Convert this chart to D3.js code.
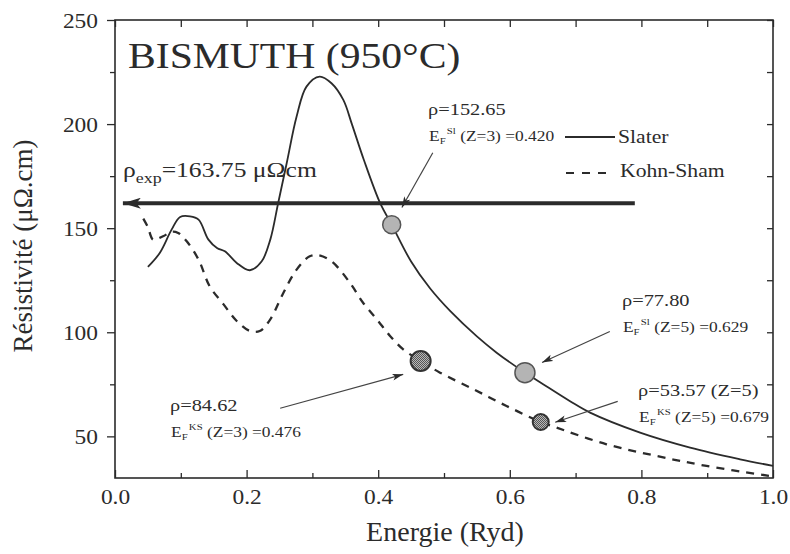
<!DOCTYPE html>
<html>
<head>
<meta charset="utf-8">
<script src="https://cdn.jsdelivr.net/npm/d3@7"></script>
<style>
  body { margin: 0; background: #fff; }
  svg { display: block; }
</style>
</head>
<body>
<div id="chart"></div>
<script>
// Slater curve (energy in Ryd, resistivity in µΩ.cm)
var slaterE = [0.050, 0.068, 0.086, 0.099, 0.114, 0.127, 0.142, 0.155, 0.167, 0.185, 0.205, 0.223, 0.236, 0.248, 0.261, 0.276, 0.291, 0.311, 0.329, 0.347, 0.360, 0.378, 0.403, 0.4205, 0.450, 0.479, 0.510, 0.550, 0.580, 0.623, 0.646, 0.691, 0.722, 0.798, 0.874, 0.950, 1.000];
var slaterRho = [131.4, 138.1, 149.3, 155.4, 155.7, 154.1, 144.5, 140.5, 138.9, 133.3, 129.8, 134.1, 144.5, 162.1, 181.3, 203.6, 218.0, 222.8, 219.6, 211.6, 200.0, 183.0, 162.0, 151.7, 134.0, 121.0, 110.0, 98.0, 90.2, 80.6, 76.0, 67.0, 61.4, 51.8, 44.6, 39.0, 35.8];

// Kohn-Sham curve
var ksE = [0.043, 0.050, 0.058, 0.073, 0.086, 0.096, 0.109, 0.127, 0.144, 0.165, 0.185, 0.205, 0.220, 0.236, 0.256, 0.276, 0.296, 0.309, 0.329, 0.357, 0.377, 0.398, 0.418, 0.438, 0.4645, 0.494, 0.545, 0.595, 0.647, 0.671, 0.747, 0.823, 0.899, 0.995];
var ksRho = [154.6, 150.5, 144.5, 146.1, 148.3, 147.7, 143.7, 134.9, 122.0, 113.4, 105.4, 100.6, 100.6, 106.2, 119.0, 130.1, 136.5, 137.0, 134.1, 123.8, 114.2, 106.2, 98.2, 91.8, 86.2, 80.6, 72.6, 64.6, 56.9, 54.2, 46.2, 40.6, 35.8, 31.0];

// Fermi level markers
var slaterPtE = [0.4205, 0.623];
var slaterPtRho = [151.7, 80.6];
var ksPtE = [0.4645, 0.647];
var ksPtRho = [86.2, 56.9];

// experimental value arrow
var expE = [0.79, 0.012];
var expRho = 162;

// annotations: labels and arrow ends (in data units)
var noteRho = ["152.65", "77.80", "53.57 (Z=5)", "84.62"];
var noteSup = ["Sl", "Sl", "KS", "KS"];
var noteZ = ["3", "5", "5", "3"];
var noteEf = ["0.420", "0.629", "0.679", "0.476"];
var noteTextE = [0.4757, 0.7705, 0.795, 0.0836];
var noteTextRho = [204.5, 112.4, 69.2, 62.1];
var noteFromE = [0.483, 0.752, 0.764, 0.251];
var noteFromRho = [186.2, 100.4, 66.8, 63.5];
var noteToE = [0.436, 0.649, 0.669, 0.438];
var noteToRho = [159.9, 85.5, 56.8, 79.8];

var xTicks = [0, 0.2, 0.4, 0.6, 0.8, 1.0];
var xMinor = [0.1, 0.3, 0.5, 0.7, 0.9];
var yTicks = [50, 100, 150, 200, 250];
var yMinor = [75, 125, 175, 225];

var W = 790, H = 554;
var SX = 1.17; // the scanned figure is a bit wider than it is tall
var ink = "#2b2b2b";
var FONT = "'Liberation Serif', 'DejaVu Serif', 'Noto Serif', serif";

var svg = d3.select("#chart").append("svg")
    .attr("width", W)
    .attr("height", H)
    .attr("font-family", FONT);

var x = d3.scaleLinear().domain([0, 1]).range([115, 773]);
var y = d3.scaleLinear().domain([30, 250]).range([478, 20]);

// wide text helper
function wtext(g, px, py, size, sx) {
    return g.append("text")
        .attr("transform", "translate(" + px + "," + py + ") scale(" + sx + ",1)")
        .attr("font-family", FONT)
        .attr("fill", ink)
        .attr("font-size", size);
}

var defs = svg.append("defs");
var pat = defs.append("pattern").attr("id", "dots")
    .attr("width", 2).attr("height", 2).attr("patternUnits", "userSpaceOnUse");
pat.append("rect").attr("width", 2).attr("height", 2).attr("fill", "#b8b8b8");
pat.append("rect").attr("width", 1).attr("height", 1).attr("fill", "#555");
pat.append("rect").attr("x", 1).attr("y", 1).attr("width", 1).attr("height", 1).attr("fill", "#555");

function head(id, len, wid) {
    defs.append("marker").attr("id", id)
        .attr("viewBox", "0 0 " + len + " " + wid)
        .attr("refX", len).attr("refY", wid / 2)
        .attr("markerWidth", len).attr("markerHeight", wid)
        .attr("markerUnits", "userSpaceOnUse")
        .attr("orient", "auto")
        .append("path")
        .attr("d", "M0,0L" + len + "," + (wid / 2) + "L0," + wid + "L" + (len * 0.25) + "," + (wid / 2) + "Z")
        .attr("fill", ink);
}
head("bigHead", 18, 11);
head("smallHead", 11, 7);

// axes
function styleAxis(g) {
    g.attr("font-family", FONT);
    g.select(".domain").remove();
    g.selectAll("line").attr("stroke", ink).attr("stroke-width", 1.3);
    g.selectAll("text").attr("font-size", 20).attr("fill", ink);
}

svg.append("g").attr("transform", "translate(0,478)")
    .call(d3.axisBottom(x).tickValues(xTicks).tickSizeInner(-8).tickSizeOuter(0).tickPadding(12).tickFormat(d3.format(".1f")))
    .call(styleAxis)
    .selectAll("text").attr("transform", "scale(" + SX + ",1)");
svg.append("g").attr("transform", "translate(0,478)")
    .call(d3.axisBottom(x).tickValues(xMinor).tickSizeInner(-5).tickSizeOuter(0).tickFormat(""))
    .call(styleAxis);
svg.append("g").attr("transform", "translate(0,20)")
    .call(d3.axisTop(x).tickValues(xTicks.concat(xMinor)).tickSizeInner(-7).tickSizeOuter(0).tickFormat(""))
    .call(styleAxis);

svg.append("g").attr("transform", "translate(115,0)")
    .call(d3.axisLeft(y).tickValues(yTicks).tickSizeInner(8).tickSizeOuter(0).tickPadding(9))
    .call(styleAxis)
    .selectAll("text")
    .attr("x", -17 / SX)
    .attr("dy", "0.36em")
    .attr("transform", "scale(" + SX + ",1)");
svg.append("g").attr("transform", "translate(115,0)")
    .call(d3.axisLeft(y).tickValues(yMinor).tickSizeInner(5).tickSizeOuter(0).tickFormat(""))
    .call(styleAxis);
svg.append("g").attr("transform", "translate(773,0)")
    .call(d3.axisRight(y).tickValues(yTicks.concat(yMinor)).tickSizeInner(-6).tickSizeOuter(0).tickFormat(""))
    .call(styleAxis);

svg.append("rect")
    .attr("x", x(0)).attr("y", y(250))
    .attr("width", x(1) - x(0)).attr("height", y(30) - y(250))
    .attr("fill", "none").attr("stroke", ink).attr("stroke-width", 1.6);

// axis titles
svg.append("text")
    .attr("x", 445).attr("y", 541)
    .attr("text-anchor", "middle")
    .attr("font-size", 28)
    .attr("fill", ink)
    .text("Energie (Ryd)");
svg.append("text")
    .attr("transform", "translate(32,246) rotate(-90)")
    .attr("text-anchor", "middle")
    .attr("font-size", 27)
    .attr("fill", ink)
    .text("Résistivité (μΩ.cm)");

// title
wtext(svg, 128, 68, 35, 1.19).text("BISMUTH (950°C)");

// curves
var line = d3.line()
    .x(function (d) { return x(d[0]); })
    .y(function (d) { return y(d[1]); })
    .curve(d3.curveCatmullRom.alpha(0.5));

var slater = slaterE.map(function (e, i) { return [e, slaterRho[i]]; });
var ks = ksE.map(function (e, i) { return [e, ksRho[i]]; });

svg.append("path").datum(ks)
    .attr("d", line)
    .attr("fill", "none")
    .attr("stroke", ink)
    .attr("stroke-width", 2.3)
    .attr("stroke-dasharray", "8,7");
svg.append("path").datum(slater)
    .attr("d", line)
    .attr("fill", "none")
    .attr("stroke", ink)
    .attr("stroke-width", 1.8);

// experimental arrow
svg.append("line")
    .attr("x1", x(expE[0])).attr("x2", x(expE[1]))
    .attr("y1", y(expRho)).attr("y2", y(expRho))
    .attr("stroke", ink)
    .attr("stroke-width", 4)
    .attr("marker-end", "url(#bigHead)");

var expLbl = wtext(svg, 123, 177, 20, 1.28);
expLbl.append("tspan").text("ρ");
expLbl.append("tspan").attr("font-size", 14).attr("dy", 6).text("exp");
expLbl.append("tspan").attr("dy", -6).text("=163.75 μΩcm");

// markers
var slaterR = [9, 10];
var ksR = [10, 8];
svg.selectAll(".ptSl").data(slaterPtE).enter().append("circle")
    .attr("cx", function (d) { return x(d); })
    .attr("cy", function (d, i) { return y(slaterPtRho[i]); })
    .attr("r", function (d, i) { return slaterR[i]; })
    .attr("fill", "#b4b4b4")
    .attr("stroke", "#555")
    .attr("stroke-width", 1.5);
svg.selectAll(".ptKs").data(ksPtE).enter().append("circle")
    .attr("cx", function (d) { return x(d); })
    .attr("cy", function (d, i) { return y(ksPtRho[i]); })
    .attr("r", function (d, i) { return ksR[i]; })
    .attr("fill", "url(#dots)")
    .attr("stroke", "#333")
    .attr("stroke-width", 2);

// annotations
noteRho.forEach(function (r, i) {
    svg.append("line")
        .attr("x1", x(noteFromE[i])).attr("y1", y(noteFromRho[i]))
        .attr("x2", x(noteToE[i])).attr("y2", y(noteToRho[i]))
        .attr("stroke", "#444")
        .attr("stroke-width", 1.2)
        .attr("marker-end", "url(#smallHead)");

    var tx = x(noteTextE[i]), ty = y(noteTextRho[i]);
    wtext(svg, tx, ty, 17, 1.2).text("ρ=" + r);
    var t = wtext(svg, tx + 1, ty + 26, 14.5, 1.2);
    t.append("tspan").text("E");
    t.append("tspan").attr("font-size", 9).attr("dy", 3).text("F");
    t.append("tspan").attr("font-size", 9).attr("dy", -10).attr("dx", 1).text(noteSup[i]);
    t.append("tspan").attr("dy", 7).text(" (Z=" + noteZ[i] + ") =" + noteEf[i]);
});

// legend
var legend = svg.append("g");
legend.append("line")
    .attr("x1", 565).attr("x2", 615).attr("y1", 137).attr("y2", 137)
    .attr("stroke", ink).attr("stroke-width", 1.8);
wtext(legend, 618, 143, 19, 1.14).text("Slater");
legend.append("line")
    .attr("x1", 566).attr("x2", 614).attr("y1", 173).attr("y2", 173)
    .attr("stroke", ink).attr("stroke-width", 2)
    .attr("stroke-dasharray", "8,8");
wtext(legend, 620, 177, 19, 1.14).text("Kohn-Sham");
</script>
</body>
</html>
